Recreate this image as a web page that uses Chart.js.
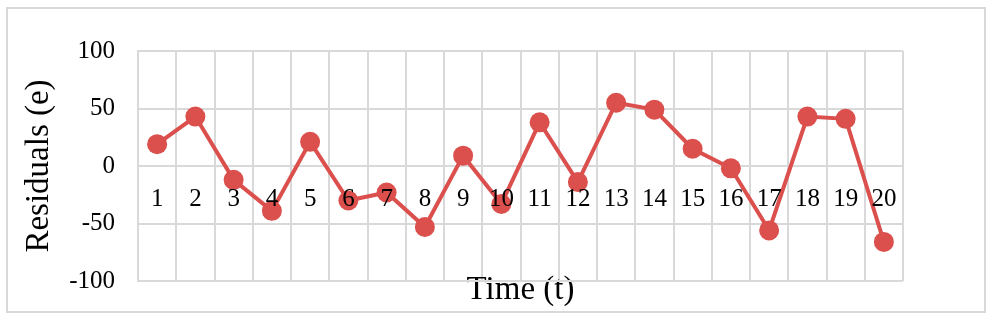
<!DOCTYPE html>
<html>
<head>
<meta charset="utf-8">
<script src="https://cdn.jsdelivr.net/npm/chart.js@4.4.1/dist/chart.umd.min.js"></script>
<style>
  html, body { margin: 0; padding: 0; background: #fff; }
  #wrap { position: relative; width: 993px; height: 320px; }
  #frame {
    position: absolute; left: 6px; top: 7px; width: 980px; height: 306px;
    border: 2px solid #d9d9d9; box-sizing: border-box; pointer-events: none;
  }
</style>
</head>
<body>
<div id="wrap">
  <canvas id="residualChart" width="993" height="320"></canvas>
  <div id="frame"></div>
</div>
<script>
// time periods and residual values
const timeLabels = ['1', '2', '3', '4', '5', '6', '7', '8', '9', '10',
  '11', '12', '13', '14', '15', '16', '17', '18', '19', '20'];
const residuals = [19, 43, -12, -39, 21, -30, -23, -53, 9, -33,
  38, -14, 55, 49, 15, -2, -56, 43, 41, -66];
const yTicks = [-100, -50, 0, 50, 100];

const serif = 'Liberation Serif, Times New Roman, serif';
const gridColor = '#d9d9d9';
const lineColor = '#db4f4d';

const ctx = document.getElementById('residualChart').getContext('2d');
new Chart(ctx, {
  type: 'line',
  data: {
    labels: timeLabels,
    datasets: [{
      label: 'Residuals',
      data: residuals,
      borderColor: lineColor,
      backgroundColor: lineColor,
      borderWidth: 4,
      pointRadius: 10,
      pointHoverRadius: 10,
      pointBackgroundColor: lineColor,
      pointBorderWidth: 0,
      tension: 0,
      clip: false
    }]
  },
  options: {
    responsive: false,
    animation: false,
    layout: { padding: { left: 10, right: 90, top: 51, bottom: 0 } },
    plugins: { legend: { display: false }, tooltip: { enabled: false } },
    scales: {
      x: {
        type: 'category',
        position: { y: 0 },
        offset: true,
        grid: { offset: true, color: gridColor, lineWidth: 2, drawTicks: false },
        border: { color: gridColor, width: 2 },
        // labels sit on top of the line, like the original
        ticks: { z: 1, color: '#000', padding: 18, maxRotation: 0, autoSkip: false,
          font: { family: serif, size: 25 } }
      },
      x2: {
        type: 'category',
        position: 'bottom',
        offset: true,
        grid: { display: false, drawTicks: false },
        border: { display: false },
        ticks: { display: false },
        title: {
          display: true, text: 'Time (t)', color: '#000',
          padding: { top: 0, bottom: 21 },
          font: { family: serif, size: 33, lineHeight: 0.545 }
        }
      },
      y: {
        min: -100,
        max: 100,
        afterBuildTicks: (axis) => { axis.ticks = yTicks.map(v => ({ value: v })); },
        afterFit: (axis) => { axis.width = 128; },
        grid: { color: gridColor, lineWidth: 2, drawTicks: false },
        border: { color: gridColor, width: 2 },
        ticks: { color: '#000', padding: 23, font: { family: serif, size: 25 } },
        title: {
          display: true, text: 'Residuals (e)', color: '#000',
          padding: { top: 10, bottom: 9 },
          font: { family: serif, size: 33, lineHeight: 1.2 }
        }
      }
    }
  }
});
</script>
</body>
</html>
